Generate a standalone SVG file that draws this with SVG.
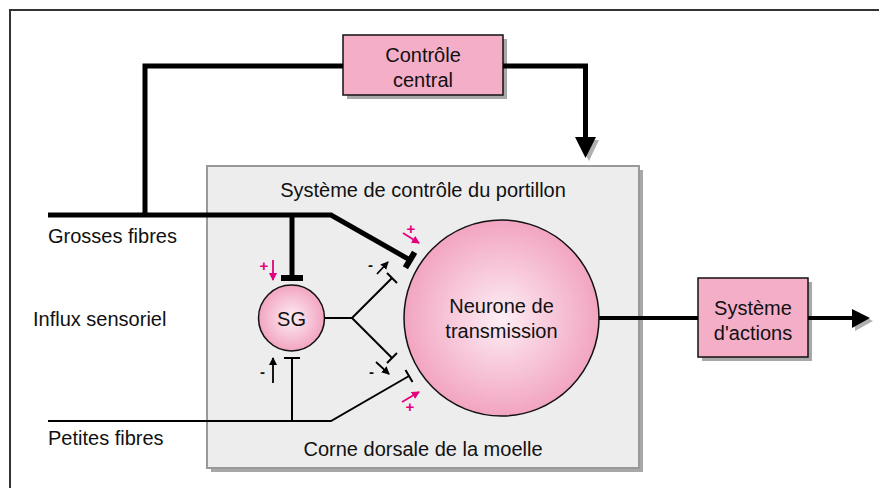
<svg xmlns="http://www.w3.org/2000/svg" width="879" height="488" viewBox="0 0 879 488">
<style>
  text { font-family: "Liberation Sans", Arial, sans-serif; fill: #111; }
  .lbl { font-size: 20px; }
  .mid { text-anchor: middle; }
  .pbox { fill: #f5aec8; stroke: #111; stroke-width: 1.5; }
  .shadow { fill: #a8a8a8; }
  .thick { fill: none; stroke: #000; stroke-width: 5; }
  .thin { fill: none; stroke: #000; stroke-width: 2; }
  .bar { stroke: #000; stroke-width: 6; }
  .tbar { stroke: #000; stroke-width: 2; }
  .sm { fill: none; stroke: #000; stroke-width: 1.8; }
  .pk { fill: none; stroke: #e4007c; stroke-width: 1.8; }
  .sign { font-size: 15px; font-weight: bold; }
</style>
<defs>
  <radialGradient id="pinkGrad" cx="50%" cy="50%" r="50%">
    <stop offset="0" stop-color="#fdeef4"/>
    <stop offset="1" stop-color="#f2a4c1"/>
  </radialGradient>
  <marker id="ah" markerWidth="8" markerHeight="8" refX="7" refY="4" orient="auto" markerUnits="userSpaceOnUse">
    <path d="M0,0 L8,4 L0,8 z" fill="#000"/>
  </marker>
  <marker id="ahp" markerWidth="8" markerHeight="8" refX="7" refY="4" orient="auto" markerUnits="userSpaceOnUse">
    <path d="M0,0 L8,4 L0,8 z" fill="#e4007c"/>
  </marker>
</defs>

<rect x="0" y="0" width="879" height="488" fill="#fff"/>
<!-- outer frame -->
<path d="M10,490 L10,10 L881,10" fill="none" stroke="#333" stroke-width="2"/>

<!-- gate control box -->
<g id="gate-box">
  <rect x="211" y="170" width="432" height="302" class="shadow"/>
  <rect x="207" y="166" width="432" height="302" fill="#ededed" stroke="#999" stroke-width="2"/>
  <text class="lbl mid" x="423" y="197">Système de contrôle du portillon</text>
  <text class="lbl mid" x="423" y="456">Corne dorsale de la moelle</text>
</g>

<g id="controle-central">
  <rect x="347" y="39" width="160" height="60" class="shadow"/>
  <rect x="343" y="35" width="160" height="60" class="pbox"/>
  <text class="lbl mid" x="423" y="62">Contrôle</text>
  <text class="lbl mid" x="423" y="87">central</text>
</g>

<g id="systeme-actions">
  <rect x="702" y="282" width="110" height="79" class="shadow"/>
  <rect x="698" y="278" width="110" height="79" class="pbox"/>
  <text class="lbl mid" x="753" y="315">Système</text>
  <text class="lbl mid" x="753" y="340">d'actions</text>
</g>

<g id="labels">
  <text class="lbl" x="48" y="243">Grosses fibres</text>
  <text class="lbl" x="33" y="326">Influx sensoriel</text>
  <text class="lbl" x="48" y="445">Petites fibres</text>
</g>

<g id="connectors">
  <!-- grosses fibres -->
  <polyline class="thick" points="48,215 331,215 410,260"/>
  <line class="bar" x1="414.6" y1="252.3" x2="405.4" y2="267.7"/>
  <polyline class="thick" points="145,215 145,66 343,66"/>
  <polyline class="thick" points="503,66 585.5,66 585.5,140"/>
  <polygon points="578,140 599,140 589,161" fill="#b0b0b0"/>
  <polygon points="575,137 596,137 585.5,158" fill="#000"/>
  <line class="thick" x1="292" y1="215" x2="292" y2="276"/>
  <line class="bar" x1="281" y1="278" x2="303" y2="278"/>
  <!-- petites fibres -->
  <polyline class="thin" points="48,421 331,421 409,376"/>
  <line class="tbar" x1="412.5" y1="382" x2="405.5" y2="370"/>
  <line class="thin" x1="292" y1="421" x2="292" y2="358"/>
  <line class="tbar" x1="284" y1="358" x2="300" y2="358"/>
  <!-- SG outputs -->
  <polyline class="thin" points="325,318 352,318 392,278"/>
  <polyline class="thin" points="352,318 392,358"/>
  <line class="tbar" x1="387" y1="273" x2="397" y2="283"/>
  <line class="tbar" x1="387" y1="363" x2="397" y2="353"/>
  <!-- output -->
  <line x1="599" y1="318" x2="698" y2="318" stroke="#000" stroke-width="4"/>
  <line x1="808" y1="318" x2="853" y2="318" stroke="#000" stroke-width="4"/>
  <polygon points="855,312 855,331 873,321" fill="#b0b0b0"/>
  <polygon points="852,309 852,328 870,318" fill="#000"/>
</g>

<g id="SG">
  <circle cx="291.5" cy="318" r="33" fill="url(#pinkGrad)" stroke="#111" stroke-width="1.5"/>
  <text class="lbl mid" x="291.5" y="326">SG</text>
</g>

<g id="neurone-transmission">
  <ellipse cx="501.5" cy="318" rx="97.5" ry="98" fill="url(#pinkGrad)" stroke="#111" stroke-width="1.5"/>
  <text class="lbl mid" x="501.5" y="313">Neurone de</text>
  <text class="lbl mid" x="501.5" y="338">transmission</text>
</g>

<g id="modulation-signs">
  <line class="sm" x1="377" y1="274" x2="388" y2="262" marker-end="url(#ah)"/>
  <text class="sign" x="368" y="270">-</text>
  <line class="sm" x1="376" y1="362" x2="389" y2="374" marker-end="url(#ah)"/>
  <text class="sign" x="369" y="377">-</text>
  <line class="sm" x1="273" y1="383" x2="273" y2="358" marker-end="url(#ah)"/>
  <text class="sign" x="260" y="377">-</text>
  <line class="pk" x1="273" y1="260" x2="273" y2="280" marker-end="url(#ahp)"/>
  <text class="sign" x="264" y="271" fill="#e4007c" style="fill:#e4007c" text-anchor="middle">+</text>
  <line class="pk" x1="403" y1="233" x2="419" y2="243" marker-end="url(#ahp)"/>
  <text class="sign" x="411" y="234" style="fill:#e4007c" text-anchor="middle">+</text>
  <line class="pk" x1="402" y1="402" x2="419" y2="392" marker-end="url(#ahp)"/>
  <text class="sign" x="410" y="412" style="fill:#e4007c" text-anchor="middle">+</text>
</g>
</svg>
